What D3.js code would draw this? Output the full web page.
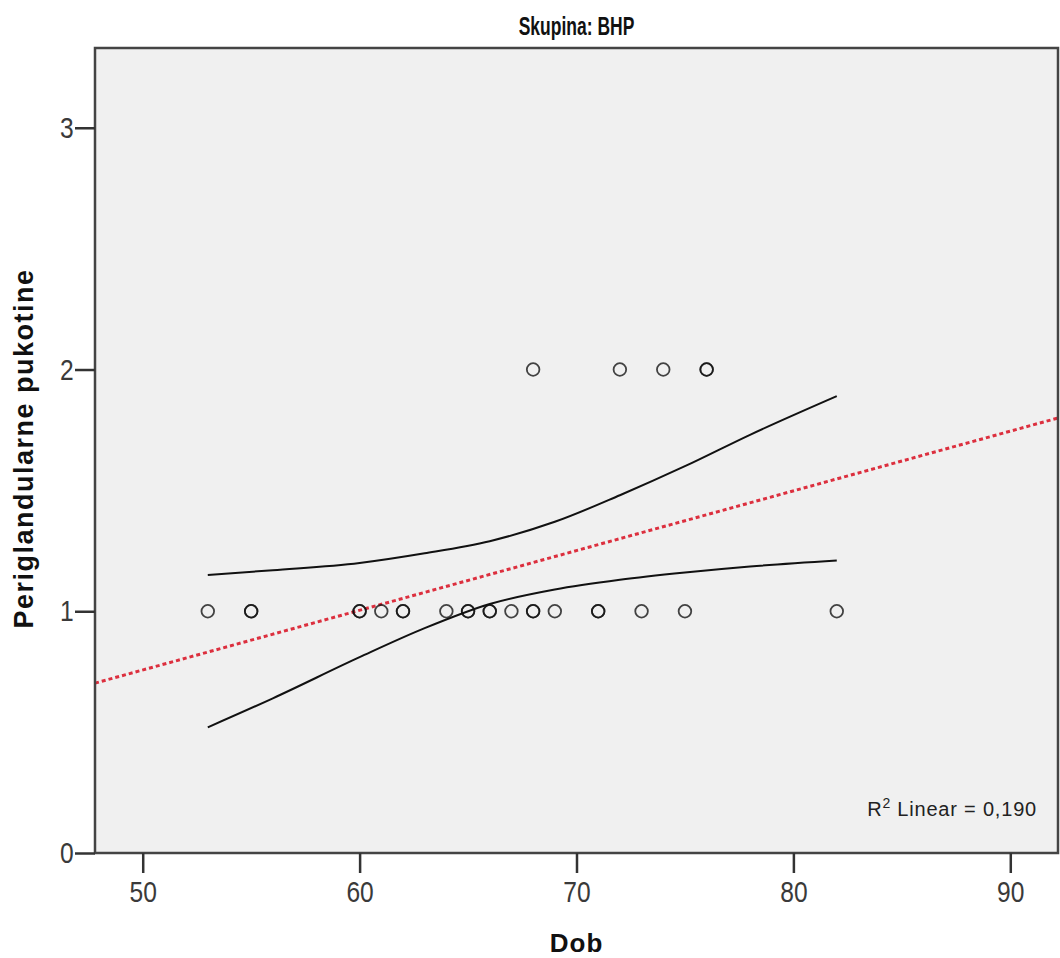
<!DOCTYPE html>
<html>
<head>
<meta charset="utf-8">
<script src="https://cdn.jsdelivr.net/npm/d3@7"></script>
<style>
  html, body { margin: 0; padding: 0; background: #fff; }
  svg { display: block; }
</style>
</head>
<body>
<svg id="chart" width="1060" height="958"></svg>
<script>
// ---- data ----
const titleText = "Skupina: BHP";
const xLabel = "Dob";
const yLabel = "Periglandularne pukotine";
const xTicks = [50, 60, 70, 80, 90];
const yTicks = [0, 1, 2, 3];
const xDomain = [47.8, 92.2];
const yDomain = [0, 3.33];

// observations (age, value); repeated entries are coincident points
const pointAge   = [53, 55, 55, 60, 60, 61, 62, 62, 64, 65, 65, 66, 66, 67, 68, 68, 69, 71, 71, 73, 75, 82, 68, 72, 74, 76, 76];
const pointValue = [ 1,  1,  1,  1,  1,  1,  1,  1,  1,  1,  1,  1,  1,  1,  1,  1,  1,  1,  1,  1,  1,  1,  2,  2,  2,  2,  2];

// fitted line
const fitIntercept = -0.478;
const fitSlope = 0.0247;
const r2Text = "0,190";

// 95% mean confidence band
const bandAge   = [53,   56,   60,   63,   66,   69,   72,   75,   78,    82];
const bandUpper = [1.15, 1.17, 1.20, 1.24, 1.29, 1.37, 1.48, 1.60, 1.73,  1.89];
const bandLower = [0.52, 0.64, 0.81, 0.93, 1.03, 1.09, 1.13, 1.16, 1.185, 1.21];

// ---- layout ----
const svg = d3.select("#chart");
const plot = { left: 95, top: 48, right: 1058, bottom: 853 };
const x = d3.scaleLinear().domain(xDomain).range([plot.left, plot.right]);
const y = d3.scaleLinear().domain(yDomain).range([plot.bottom, plot.top]);

// background
svg.append("rect")
  .attr("x", plot.left).attr("y", plot.top)
  .attr("width", plot.right - plot.left).attr("height", plot.bottom - plot.top)
  .attr("fill", "#f0f0f0");

const g = svg.append("g");

// confidence band curves
const curveLine = d3.line().curve(d3.curveMonotoneX);
[bandUpper, bandLower].forEach(arr => {
  g.append("path")
    .attr("d", curveLine(bandAge.map((a, i) => [x(a), y(arr[i])])))
    .attr("fill", "none")
    .attr("stroke", "#111")
    .attr("stroke-width", 2);
});

// regression line
g.append("line")
  .attr("x1", x(xDomain[0])).attr("y1", y(fitIntercept + fitSlope * xDomain[0]))
  .attr("x2", x(xDomain[1])).attr("y2", y(fitIntercept + fitSlope * xDomain[1]))
  .attr("stroke", "#dc2f3e")
  .attr("stroke-width", 3)
  .attr("stroke-dasharray", "4 3");

// points
g.selectAll("circle.pt")
  .data(pointAge.map((a, i) => ({ a, v: pointValue[i] })))
  .join("circle")
  .attr("class", "pt")
  .attr("cx", d => x(d.a))
  .attr("cy", d => y(d.v))
  .attr("r", 6.3)
  .attr("fill", "none")
  .attr("stroke", "#111")
  .attr("stroke-opacity", 0.78)
  .attr("stroke-width", 1.8);

// frame
svg.append("rect")
  .attr("x", plot.left).attr("y", plot.top)
  .attr("width", plot.right - plot.left).attr("height", plot.bottom - plot.top)
  .attr("fill", "none")
  .attr("stroke", "#444")
  .attr("stroke-width", 2.5);

// axes
const baseFont = "'Liberation Sans', Arial, sans-serif";
const xAxis = d3.axisBottom(x).tickValues(xTicks).tickSize(20).tickPadding(8).tickFormat(d3.format("d"));
const yAxis = d3.axisLeft(y).tickValues(yTicks).tickSize(20).tickPadding(6).tickFormat(d3.format("d"));

const gx = svg.append("g").attr("transform", `translate(0,${plot.bottom})`).call(xAxis);
const gy = svg.append("g").attr("transform", `translate(${plot.left},0)`).call(yAxis);
[gx, gy].forEach(ax => {
  ax.select(".domain").remove();
  ax.selectAll(".tick line").attr("stroke", "#333").attr("stroke-width", 2.5);
  ax.selectAll(".tick text")
    .attr("fill", "#3a3a3a")
    .attr("transform", "scale(0.82,1)")
    .style("font-family", baseFont)
    .style("font-weight", "300")
    .style("font-size", "30px");
});

// title (condensed bold)
svg.append("text")
  .attr("transform", `translate(${(plot.left + plot.right) / 2},35) scale(0.7,1)`)
  .attr("text-anchor", "middle")
  .style("font-family", baseFont)
  .style("font-weight", "bold")
  .style("font-size", "25px")
  .attr("fill", "#111")
  .text(titleText);

// axis titles
svg.append("text")
  .attr("x", (plot.left + plot.right) / 2)
  .attr("y", 952)
  .attr("text-anchor", "middle")
  .style("font-family", baseFont)
  .style("font-weight", "bold")
  .style("font-size", "26px")
  .style("letter-spacing", "1px")
  .attr("fill", "#111")
  .text(xLabel);

svg.append("text")
  .attr("transform", `translate(33,${(plot.top + plot.bottom) / 2 - 2}) rotate(-90)`)
  .attr("text-anchor", "middle")
  .style("font-family", baseFont)
  .style("font-weight", "bold")
  .style("font-size", "27px")
  .style("letter-spacing", "1.5px")
  .attr("fill", "#111")
  .text(yLabel);

// R² annotation
const r2 = svg.append("text")
  .attr("x", 1037)
  .attr("y", 816)
  .attr("text-anchor", "end")
  .style("font-family", baseFont)
  .style("font-size", "20px")
  .style("letter-spacing", "0.8px")
  .attr("fill", "#222");
r2.append("tspan").text("R");
r2.append("tspan").attr("dy", -8).style("font-size", "14px").text("2");
r2.append("tspan").attr("dy", 8).text(" Linear = " + r2Text);
</script>
</body>
</html>
